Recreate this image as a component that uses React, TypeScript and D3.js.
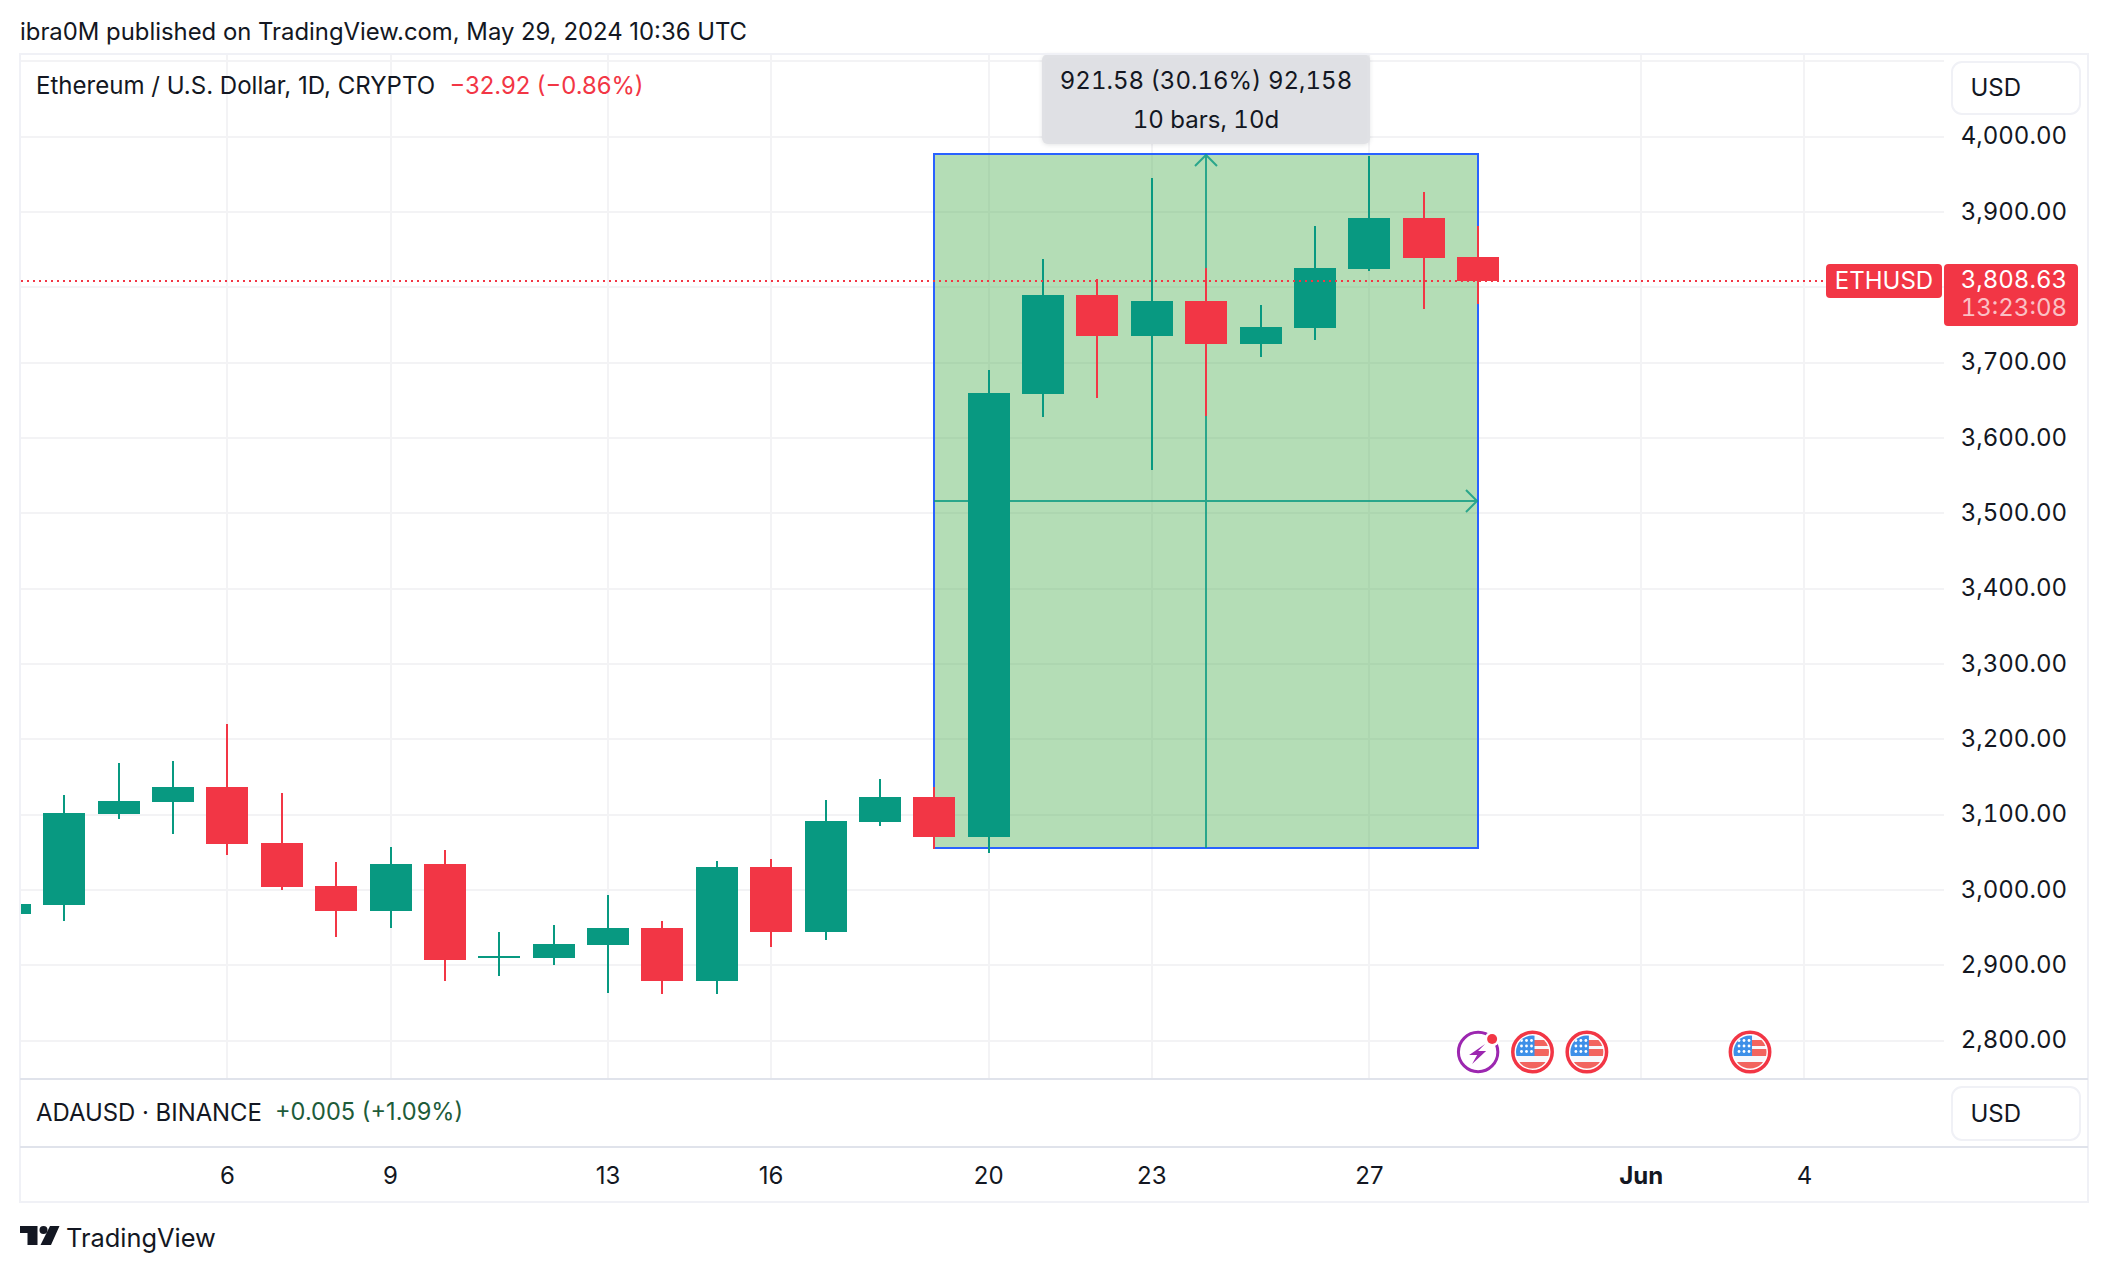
import React, { useEffect, useRef } from 'react';
import * as d3 from 'd3';

// May 2024 day numbers (32 = Jun 1)
const days = [2, 3, 4, 5, 6, 7, 8, 9, 10, 11, 12, 13, 14, 15, 16, 17, 18, 19, 20, 21, 22, 23, 24, 25, 26, 27, 28, 29];
const opens = [2968.1, 2980.1, 3100.9, 3116.8, 3136.7, 3062.4, 3005.3, 2972.1, 3034.5, 2909.8, 2909.7, 2927, 2949.6, 2879.2, 3030.5, 2944.2, 3090.3, 3123.5, 3070.4, 3658.4, 3789.9, 3735.4, 3781.9, 3724.8, 3746, 3824.4, 3892.1, 3840.3];
const highs = [2990, 3126.1, 3168.6, 3171.2, 3220.4, 3128.8, 3037.2, 3057.1, 3053.1, 2944.2, 2953.5, 2993.4, 2958.9, 3038.5, 3041.2, 3119.5, 3147.3, 3136.7, 3690.3, 3837.6, 3811.1, 3945.2, 3825.7, 3776.6, 3881.5, 3974.4, 3926.6, 3881.5];
const lows = [2960, 2958.9, 3094.3, 3074.3, 3046.5, 3000, 2937.6, 2949.6, 2879.2, 2885.8, 2900.4, 2863.3, 2862, 2862, 2924.3, 2933.6, 3085, 3054.4, 3049.1, 3627.9, 3653.1, 3557.5, 3629.2, 3707.6, 3730.1, 3821.7, 3771.3, 3777.9];
const closes = [2981.4, 3102.2, 3118.1, 3136.7, 3061.1, 3004, 2972.1, 3034.5, 2907.1, 2912.4, 2928.3, 2949.6, 2879.2, 3030.5, 2944.2, 3091.6, 3123.5, 3070.4, 3659.8, 3789.9, 3735.4, 3781.9, 3724.8, 3747.4, 3825.7, 3892.1, 3839, 3808.63];

const priceTicks = [2800, 2900, 3000, 3100, 3200, 3300, 3400, 3500, 3600, 3700, 3800, 3900, 4000, 4100];
const priceLabels = [2800, 2900, 3000, 3100, 3200, 3300, 3400, 3500, 3600, 3700, 3900, 4000];
const timeTicks = [6, 9, 13, 16, 20, 23, 27, 32, 35];
const timeLabels = ['6', '9', '13', '16', '20', '23', '27', 'Jun', '4'];
const flagDays = [30, 31, 34];

const rangeFrom = [19, 29];
const rangePrice = [3056, 3977.58];
const lastPrice = 3808.63;

const UP = '#089981';
const DOWN = '#F23645';
const INK = '#131722';
const FONT = 'Inter, "Noto Sans", sans-serif';

const App = () => {
    const chartRef = useRef<SVGSVGElement>(null);

    useEffect(() => {
        const svg = d3.select(chartRef.current);
        svg.selectAll('*').remove();

        const width = 2108;
        const height = 1272;
        const paneLeft = 21;
        const paneRight = 1944;
        const paneTop = 55;
        const paneBottom = 1078;

        svg.attr('width', width).attr('height', height);

        const x = d3.scaleLinear().domain([6, 35]).range([227.4, 1804.4]);
        const y = d3.scaleLinear().domain([2800, 4000]).range([1040.7, 136.7]);

        const text = (parent: any, s: string, tx: number, ty: number, size: number, fill: string, anchor = 'start') =>
            parent.append('text')
                .attr('x', tx)
                .attr('y', ty)
                .attr('dy', '0.36em')
                .attr('font-family', FONT)
                .attr('font-size', size)
                .attr('fill', fill)
                .attr('text-anchor', anchor)
                .text(s);

        // numbers on the scales use even digit widths
        const num = (sel: any) => sel.style('font-variant-numeric', 'tabular-nums');

        svg.append('rect').attr('width', width).attr('height', height).attr('fill', '#fff');

        const defs = svg.append('defs');
        defs.append('clipPath').attr('id', 'pane')
            .append('rect')
            .attr('x', paneLeft).attr('y', paneTop)
            .attr('width', paneRight - paneLeft).attr('height', paneBottom - paneTop);

        const pane = svg.append('g').attr('clip-path', 'url(#pane)');

        // grid
        pane.selectAll('.hgrid').data(priceTicks).enter().append('line')
            .attr('x1', paneLeft).attr('x2', paneRight)
            .attr('y1', d => Math.round(y(d))).attr('y2', d => Math.round(y(d)))
            .attr('stroke', '#F3F3F5').attr('stroke-width', 2);
        pane.selectAll('.vgrid').data(timeTicks).enter().append('line')
            .attr('y1', paneTop).attr('y2', paneBottom)
            .attr('x1', d => Math.round(x(d))).attr('x2', d => Math.round(x(d)))
            .attr('stroke', '#F3F3F5').attr('stroke-width', 2);

        // date and price range box
        const rx0 = Math.round(x(rangeFrom[0]));
        const rx1 = Math.round(x(rangeFrom[1]));
        const ry0 = Math.round(y(rangePrice[1]));
        const ry1 = Math.round(y(rangePrice[0]));
        const rxm = Math.round((rx0 + rx1) / 2);
        const rym = Math.round((ry0 + ry1) / 2);

        pane.append('rect')
            .attr('x', rx0).attr('y', ry0)
            .attr('width', rx1 - rx0).attr('height', ry1 - ry0)
            .attr('fill', '#4CAF50').attr('fill-opacity', 0.42)
            .attr('stroke', '#2962FF').attr('stroke-width', 2);

        const arrow = d3.path();
        arrow.moveTo(rxm, ry1);
        arrow.lineTo(rxm, ry0 + 1);
        arrow.moveTo(rxm - 11, ry0 + 12);
        arrow.lineTo(rxm, ry0 + 1);
        arrow.lineTo(rxm + 11, ry0 + 12);
        arrow.moveTo(rx0, rym);
        arrow.lineTo(rx1 - 1, rym);
        arrow.moveTo(rx1 - 12, rym - 11);
        arrow.lineTo(rx1 - 1, rym);
        arrow.lineTo(rx1 - 12, rym + 11);
        pane.append('path')
            .attr('d', arrow.toString())
            .attr('fill', 'none')
            .attr('stroke', UP).attr('stroke-opacity', 0.8).attr('stroke-width', 2);

        // candles
        const isUp = (i: number) => closes[i] >= opens[i];
        const candles = pane.selectAll('.candle').data(days).enter().append('g').attr('class', 'candle');
        candles.append('rect')
            .attr('x', d => Math.round(x(d)) - 1)
            .attr('y', (d, i) => Math.round(y(highs[i])))
            .attr('width', 2)
            .attr('height', (d, i) => Math.round(y(lows[i])) - Math.round(y(highs[i])))
            .attr('fill', (d, i) => (isUp(i) ? UP : DOWN));
        candles.append('rect')
            .attr('x', d => Math.round(x(d)) - 21)
            .attr('y', (d, i) => Math.round(y(Math.max(opens[i], closes[i]))))
            .attr('width', 42)
            .attr('height', (d, i) => Math.round(y(Math.min(opens[i], closes[i]))) - Math.round(y(Math.max(opens[i], closes[i]))))
            .attr('fill', (d, i) => (isUp(i) ? UP : DOWN));

        // last price line
        pane.append('line')
            .attr('x1', paneLeft).attr('x2', 1826)
            .attr('y1', Math.round(y(lastPrice))).attr('y2', Math.round(y(lastPrice)))
            .attr('stroke', DOWN).attr('stroke-width', 2).attr('stroke-dasharray', '2 4');

        // measure tooltip
        svg.append('rect')
            .attr('x', rxm - 164).attr('y', 54)
            .attr('width', 328).attr('height', 90)
            .attr('rx', 6)
            .attr('fill', '#DFE0E4').attr('fill-opacity', 0.93)
            .style('filter', 'drop-shadow(0 1px 2px rgba(19,23,34,0.12))');
        num(text(svg, '921.58 (30.16%) 92,158', rxm, 80, 24, INK, 'middle'));
        num(text(svg, '10 bars, 10d', rxm, 119, 24, INK, 'middle'));

        // events
        const flags = svg.selectAll('.flag').data(flagDays).enter().append('g')
            .attr('transform', d => `translate(${x(d)},1052)`);
        flags.each(function (d, i) {
            const g = d3.select(this);
            const id = `flag${i}`;
            g.append('circle').attr('r', 19.7).attr('fill', '#fff').attr('stroke', DOWN).attr('stroke-width', 3.5);
            g.append('clipPath').attr('id', id).append('circle').attr('r', 16.5);
            const f = g.append('g').attr('clip-path', `url(#${id})`);
            f.append('rect').attr('x', -17).attr('y', -17).attr('width', 34).attr('height', 34).attr('fill', '#F7F8FC');
            f.append('rect').attr('x', 0).attr('y', -12).attr('width', 17).attr('height', 6).attr('fill', '#F2645F');
            f.append('rect').attr('x', 0).attr('y', -3).attr('width', 17).attr('height', 7).attr('fill', '#F2645F');
            f.append('rect').attr('x', -17).attr('y', 10).attr('width', 34).attr('height', 8).attr('fill', '#F2645F');
            f.append('rect').attr('x', -17).attr('y', -17).attr('width', 19).attr('height', 21).attr('fill', '#3D8FE8');
            [-11.5, -6, -0.5].forEach(sy => {
                [-11, -6, -1].forEach(sx => {
                    f.append('circle').attr('cx', sx).attr('cy', sy).attr('r', 1.4).attr('fill', '#fff');
                });
            });
        });

        const bolt = svg.append('g').attr('transform', `translate(${x(29)},1052)`);
        bolt.append('circle').attr('r', 19.7).attr('fill', '#fff').attr('stroke', '#9C27B0').attr('stroke-width', 3);
        bolt.append('path')
            .attr('d', 'M7,-8 L-9,3 L-1,3 L-6,12 L8,-1 L0,-1 Z')
            .attr('fill', '#9C27B0');
        bolt.append('circle').attr('cx', 14).attr('cy', -13).attr('r', 7.5).attr('fill', '#fff');
        bolt.append('circle').attr('cx', 14).attr('cy', -13).attr('r', 5).attr('fill', DOWN);

        // frame
        const frame = '#F0F1F6';
        svg.append('rect')
            .attr('x', 20).attr('y', 54)
            .attr('width', 2068).attr('height', 1148)
            .attr('fill', 'none').attr('stroke', frame).attr('stroke-width', 2);
        svg.append('line').attr('x1', 20).attr('x2', 2088).attr('y1', 1079).attr('y2', 1079).attr('stroke', '#E0E3EB').attr('stroke-width', 2);
        svg.append('line').attr('x1', 20).attr('x2', 2088).attr('y1', 1147).attr('y2', 1147).attr('stroke', '#E0E3EB').attr('stroke-width', 2);

        // price axis
        priceLabels.forEach(p => {
            num(text(svg, d3.format(',.2f')(p), 2067, y(p) - 1, 24, INK, 'end'));
        });
        [[62, 52, 87], [1087, 53, 1113]].forEach(([by, bh, ty]) => {
            svg.append('rect')
                .attr('x', 1952).attr('y', by)
                .attr('width', 128).attr('height', bh)
                .attr('rx', 10)
                .attr('fill', '#fff').attr('stroke', frame).attr('stroke-width', 2);
            text(svg, 'USD', 1970.5, ty, 24, INK);
        });

        // last price labels
        svg.append('rect').attr('x', 1826).attr('y', 264).attr('width', 116).attr('height', 34).attr('rx', 4).attr('fill', DOWN);
        text(svg, 'ETHUSD', 1884, 280, 24, '#fff', 'middle');
        svg.append('rect').attr('x', 1944).attr('y', 264).attr('width', 134).attr('height', 62).attr('rx', 4).attr('fill', DOWN);
        num(text(svg, d3.format(',.2f')(lastPrice), 2067, 279.5, 24, '#fff', 'end'));
        num(text(svg, '13:23:08', 2067, 307.5, 24, '#fff', 'end').attr('fill-opacity', 0.7));

        // time axis
        timeTicks.forEach((d, i) => {
            text(svg, timeLabels[i], x(d), 1175.5, 24, INK, 'middle')
                .attr('font-weight', timeLabels[i] === 'Jun' ? 700 : 400);
        });

        // titles
        text(svg, 'ibra0M published on TradingView.com, May 29, 2024 10:36 UTC', 20, 31.5, 23.87, INK);
        text(svg, 'Ethereum / U.S. Dollar, 1D, CRYPTO', 36, 85, 24.05, INK);
        text(svg, '−32.92 (−0.86%)', 449.5, 85, 23.8, DOWN);
        text(svg, 'ADAUSD · BINANCE', 36, 1112, 23.9, INK);
        text(svg, '+0.005 (+1.09%)', 275, 1112, 23.6, '#1E5C3A');

        // logo
        svg.append('path')
            .attr('d', 'M20,1226 H37.5 V1245 H27.5 V1233 H20 Z M50,1226 H59.5 L51,1245 H40.5 Z')
            .attr('fill', INK);
        svg.append('circle').attr('cx', 43.5).attr('cy', 1230).attr('r', 4).attr('fill', INK);
        text(svg, 'TradingView', 66, 1238, 25.4, INK);
    }, []);

    return <svg ref={chartRef} style={{ position: 'absolute', left: 0, top: 0, display: 'block' }}></svg>;
};

export default App;
